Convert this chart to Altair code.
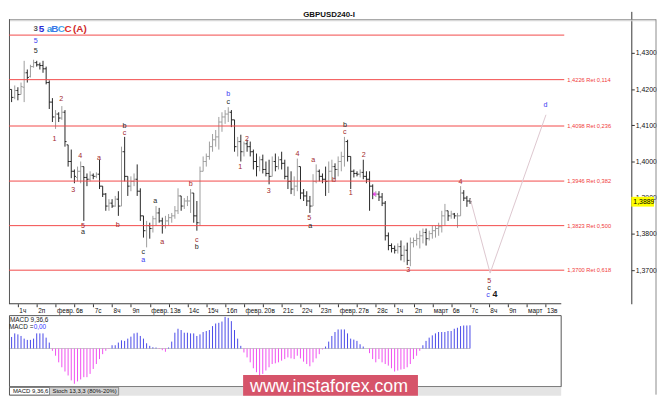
import json
import altair as alt
import pandas as pd

FONT = "Liberation Sans"

# ---------------- data: GBPUSD 4-hour bars (first bar 31 Jan, 08:00) ----------------
bar_open = [
    1.4142, 1.4177, 1.4199, 1.4177, 1.4196, 1.4185, 1.4205, 1.4245, 1.4235, 1.4262,
    1.4273, 1.4267, 1.4265, 1.4256, 1.4218, 1.4164, 1.4123, 1.4131, 1.4120, 1.4136,
    1.4046, 1.4000, 1.3973, 1.3956, 1.3973, 1.3986, 1.3956, 1.3951, 1.3962, 1.3959,
    1.3965, 1.3932, 1.3910, 1.3877, 1.3885, 1.3877, 1.3896, 1.3877, 1.4027, 1.3959,
    1.3932, 1.3945, 1.3951, 1.3918, 1.3850, 1.3809, 1.3823, 1.3815, 1.3842, 1.3858,
    1.3836, 1.3823, 1.3836, 1.3845, 1.3850, 1.3864, 1.3905, 1.3877, 1.3891, 1.3891,
    1.3913, 1.3850, 1.3831, 1.3973, 1.4000, 1.4014, 1.4041, 1.4060, 1.4068, 1.4109,
    1.4123, 1.4131, 1.4136, 1.4115, 1.4041, 1.4055, 1.4027, 1.4049, 1.4041, 1.4027,
    1.4000, 1.3986, 1.4005, 1.3978, 1.3967, 1.3959, 1.4000, 1.3986, 1.4005, 1.3995,
    1.3959, 1.3945, 1.3924, 1.3932, 1.3986, 1.3913, 1.3905, 1.3891, 1.3877, 1.3945,
    1.3973, 1.3959, 1.3951, 1.3945, 1.3973, 1.3986, 1.3978, 1.4000, 1.4014, 1.4055,
    1.4014, 1.3973, 1.3967, 1.3965, 1.3970, 1.3959, 1.3951, 1.3932, 1.3910, 1.3910,
    1.3902, 1.3885, 1.3795, 1.3768, 1.3760, 1.3755, 1.3765, 1.3741, 1.3755, 1.3727,
    1.3776, 1.3782, 1.3787, 1.3795, 1.3804, 1.3787, 1.3801, 1.3809, 1.3815, 1.3820,
    1.3850, 1.3864, 1.3850, 1.3855, 1.3850, 1.3850, 1.3913, 1.3899, 1.3891,
]
bar_high = [
    1.4191, 1.4218, 1.4199, 1.4210, 1.4205, 1.4218, 1.4278, 1.4254, 1.4267, 1.4281,
    1.4278, 1.4273, 1.4278, 1.4262, 1.4224, 1.4175, 1.4142, 1.4136, 1.4153, 1.4142,
    1.4046, 1.4033, 1.3978, 1.3986, 1.4000, 1.3986, 1.3967, 1.3973, 1.3967, 1.3970,
    1.4005, 1.3932, 1.3913, 1.3896, 1.3896, 1.3905, 1.3918, 1.4041, 1.4068, 1.3959,
    1.3959, 1.3967, 1.3992, 1.3926, 1.3850, 1.3836, 1.3831, 1.3850, 1.3877, 1.3872,
    1.3845, 1.3850, 1.3855, 1.3858, 1.3877, 1.3926, 1.3905, 1.3899, 1.3905, 1.3924,
    1.3913, 1.3891, 1.3986, 1.4014, 1.4022, 1.4055, 1.4076, 1.4087, 1.4123, 1.4136,
    1.4142, 1.4150, 1.4142, 1.4115, 1.4068, 1.4074, 1.4055, 1.4060, 1.4055, 1.4033,
    1.4022, 1.4014, 1.4019, 1.4000, 1.4005, 1.4014, 1.4022, 1.4014, 1.4027, 1.4005,
    1.3986, 1.3973, 1.3959, 1.4008, 1.3986, 1.3924, 1.3918, 1.3905, 1.3965, 1.3992,
    1.3978, 1.3967, 1.3986, 1.4000, 1.4005, 1.3995, 1.4014, 1.4027, 1.4068, 1.4060,
    1.4014, 1.3978, 1.3973, 1.3978, 1.4005, 1.3973, 1.3973, 1.3937, 1.3918, 1.3918,
    1.3913, 1.3891, 1.3804, 1.3774, 1.3768, 1.3774, 1.3782, 1.3768, 1.3776, 1.3790,
    1.3790, 1.3801, 1.3809, 1.3815, 1.3815, 1.3809, 1.3823, 1.3823, 1.3831, 1.3864,
    1.3883, 1.3864, 1.3864, 1.3858, 1.3858, 1.3932, 1.3921, 1.3905, 1.3899,
]
bar_low = [
    1.4128, 1.4136, 1.4164, 1.4172, 1.4169, 1.4185, 1.4164, 1.4218, 1.4232, 1.4259,
    1.4262, 1.4254, 1.4245, 1.4213, 1.4145, 1.4109, 1.4090, 1.4109, 1.4115, 1.4041,
    1.3986, 1.3954, 1.3940, 1.3945, 1.3940, 1.3836, 1.3932, 1.3945, 1.3951, 1.3954,
    1.3924, 1.3902, 1.3864, 1.3864, 1.3872, 1.3875, 1.3850, 1.3877, 1.3945, 1.3905,
    1.3918, 1.3932, 1.3905, 1.3836, 1.3790, 1.3763, 1.3787, 1.3804, 1.3823, 1.3831,
    1.3801, 1.3815, 1.3823, 1.3831, 1.3842, 1.3855, 1.3864, 1.3869, 1.3877, 1.3858,
    1.3831, 1.3809, 1.3823, 1.3973, 1.3986, 1.4005, 1.4027, 1.4041, 1.4033, 1.4082,
    1.4104, 1.4109, 1.4095, 1.4027, 1.4014, 1.4000, 1.4014, 1.4027, 1.4014, 1.3978,
    1.3959, 1.3973, 1.3967, 1.3959, 1.3937, 1.3959, 1.3973, 1.3978, 1.3978, 1.3951,
    1.3924, 1.3910, 1.3905, 1.3918, 1.3896, 1.3891, 1.3877, 1.3858, 1.3877, 1.3940,
    1.3945, 1.3940, 1.3905, 1.3913, 1.3945, 1.3951, 1.3959, 1.3973, 1.3986, 1.4000,
    1.3924, 1.3956, 1.3959, 1.3956, 1.3951, 1.3940, 1.3864, 1.3896, 1.3902, 1.3891,
    1.3877, 1.3782, 1.3755, 1.3749, 1.3746, 1.3746, 1.3727, 1.3722, 1.3714, 1.3711,
    1.3763, 1.3768, 1.3760, 1.3774, 1.3768, 1.3782, 1.3787, 1.3790, 1.3795, 1.3804,
    1.3823, 1.3836, 1.3842, 1.3842, 1.3817, 1.3850, 1.3891, 1.3875, 1.3883,
]
bar_close = [
    1.4177, 1.4205, 1.4177, 1.4196, 1.4185, 1.4207, 1.4245, 1.4232, 1.4262, 1.4273,
    1.4267, 1.4265, 1.4256, 1.4218, 1.4164, 1.4123, 1.4131, 1.4120, 1.4136, 1.4055,
    1.4000, 1.3973, 1.3959, 1.3973, 1.3986, 1.3956, 1.3951, 1.3962, 1.3959, 1.3965,
    1.3932, 1.3910, 1.3877, 1.3885, 1.3877, 1.3896, 1.3877, 1.4027, 1.3959, 1.3932,
    1.3945, 1.3951, 1.3918, 1.3850, 1.3809, 1.3823, 1.3815, 1.3842, 1.3858, 1.3836,
    1.3823, 1.3836, 1.3845, 1.3850, 1.3864, 1.3905, 1.3877, 1.3891, 1.3891, 1.3913,
    1.3850, 1.3831, 1.3973, 1.4000, 1.4014, 1.4041, 1.4060, 1.4068, 1.4109, 1.4123,
    1.4131, 1.4136, 1.4115, 1.4041, 1.4055, 1.4027, 1.4049, 1.4041, 1.4027, 1.4000,
    1.3986, 1.4005, 1.3978, 1.3967, 1.3959, 1.4000, 1.3986, 1.4005, 1.3995, 1.3959,
    1.3945, 1.3924, 1.3932, 1.3986, 1.3913, 1.3905, 1.3891, 1.3877, 1.3945, 1.3973,
    1.3959, 1.3951, 1.3945, 1.3973, 1.3986, 1.3978, 1.4000, 1.4014, 1.4055, 1.4014,
    1.3973, 1.3967, 1.3965, 1.3970, 1.3959, 1.3951, 1.3932, 1.3910, 1.3910, 1.3902,
    1.3885, 1.3795, 1.3768, 1.3760, 1.3755, 1.3765, 1.3741, 1.3755, 1.3727, 1.3776,
    1.3782, 1.3787, 1.3795, 1.3804, 1.3787, 1.3801, 1.3809, 1.3815, 1.3820, 1.3850,
    1.3864, 1.3850, 1.3855, 1.3850, 1.3850, 1.3913, 1.3899, 1.3891, 1.3889,
]
macd_hist = [
    0.00067, 0.00077, 0.00117, 0.00153, 0.00143, 0.00127, 0.00100, 0.00087, 0.00087, 0.00100,
    0.00153, 0.00153, 0.00153, 0.00110, 0.00060, -0.00023, -0.00073, -0.00140, -0.00190, -0.00233,
    -0.00273, -0.00323, -0.00357, -0.00333, -0.00313, -0.00290, -0.00290, -0.00257, -0.00207, -0.00157,
    -0.00107, -0.00057, -0.00023, -0.00005, 0.00033, 0.00033, 0.00060, 0.00083, 0.00077, 0.00100,
    0.00120, 0.00153, 0.00160, 0.00127, 0.00100, 0.00053, 0.00027, 0.00013, 0.00010, -0.00005,
    -0.00017, -0.00033, 0.00010, 0.00070, 0.00160, 0.00200, 0.00187, 0.00160, 0.00160, 0.00153,
    0.00153, 0.00127, 0.00143, 0.00167, 0.00177, 0.00187, 0.00227, 0.00253, 0.00260, 0.00273,
    0.00320, 0.00310, 0.00277, 0.00187, 0.00100, 0.00027, -0.00040, -0.00090, -0.00140, -0.00200,
    -0.00240, -0.00273, -0.00257, -0.00223, -0.00190, -0.00157, -0.00150, -0.00140, -0.00123, -0.00107,
    -0.00090, -0.00100, -0.00107, -0.00073, -0.00100, -0.00133, -0.00157, -0.00180, -0.00140, -0.00100,
    -0.00057, -0.00010, 0.00020, 0.00070, 0.00127, 0.00167, 0.00193, 0.00193, 0.00193, 0.00153,
    0.00100, 0.00090, 0.00077, 0.00043, 0.00020, 0.00000, -0.00047, -0.00107, -0.00140, -0.00107,
    -0.00140, -0.00157, -0.00173, -0.00200, -0.00233, -0.00223, -0.00213, -0.00207, -0.00190, -0.00157,
    -0.00107, -0.00073, -0.00023, 0.00033, 0.00077, 0.00110, 0.00133, 0.00153, 0.00167, 0.00167,
    0.00167, 0.00177, 0.00177, 0.00200, 0.00210, 0.00227, 0.00233, 0.00233, 0.00235,
]
BARS_BEFORE_FEB1 = 4      # 4-hour bars shown before 1 Feb 00:00
BARS_PER_DAY = 6

day_labels = ["1ч", "2п", "февр.", "6в", "7с", "8ч", "9п", "февр.", "13в", "14с", "15ч",
              "16п", "февр.", "20в", "21с", "22ч", "23п", "февр.", "27в", "28с", "1ч",
              "2п", "март", "6в", "7с", "8ч", "9п", "март", "13в"]
price_ticks = [1.37, 1.38, 1.39, 1.40, 1.41, 1.42, 1.43]

fib_levels = [1.4349, 1.4226, 1.4098, 1.3946, 1.3823, 1.3700]
fib_labels = ["", "1,4226 Ret 0,114", "1,4098 Ret 0,236", "1,3946 Ret 0,382",
              "1,3823 Ret 0,500", "1,3700 Ret 0,618"]

R, K, B = "#a3282d", "#262626", "#3a3af2"
wave_text = ["5", "5", "1", "2", "3", "4", "5", "a", "a", "b", "b", "c", "c", "a", "a", "a",
             "b", "c", "b", "b", "c", "1", "2", "3", "4", "5", "a", "a", "b", "b", "c",
             "1", "2", "3", "4", "5", "c", "c", "d"]
wave_day = [0.944, 0.944, 1.940, 2.307, 2.937, 3.304, 3.461, 3.461, 4.300, 5.296, 5.663,
            5.663, 6.660, 6.660, 7.289, 7.656, 9.177, 9.491, 9.491, 11.169, 11.169, 11.799,
            12.166, 13.319, 14.840, 15.469, 15.522, 15.679, 16.780, 17.357, 17.357, 17.672,
            18.354, 20.713, 23.493, 25.013, 25.013, 24.961, 28.002]
wave_price = [1.4333, 1.4305, 1.4063, 1.4172, 1.3921, 1.4014, 1.3823, 1.3804, 1.4011,
              1.3825, 1.4098, 1.4079, 1.3749, 1.3727, 1.3891, 1.3779, 1.3937, 1.3782,
              1.3763, 1.4185, 1.4164, 1.3986, 1.4063, 1.3918, 1.4022, 1.3845, 1.3823,
              1.4003, 1.3948, 1.4101, 1.4082, 1.3913, 1.4019, 1.3700, 1.3943, 1.3670,
              1.3651, 1.3632, 1.4155]
wave_color = [B, K, R, R, R, R, R, K, R, R, K, R, K, B, K, R, R, R, K, B, K, R, R, R, R,
              R, K, R, R, K, R, R, R, R, R, R, K, B, B]

legend_text = ["3", "5", "a", "B", "C", "C", "(A)"]
legend_day = [0.944, 1.259, 1.678, 1.966, 2.307, 2.659, 3.288]
legend_color = ["#555555", "#2b2bd9", "#2f9be0", "#3a78e8", "#4aa3ee", "#e02828", "#cf2a2a"]
legend_size = [8, 10, 10, 10, 10, 10, 10]
legend_price = 1.4365

wave4_day, wave4_price = 25.328, 1.3635

proj_day = [24.017, 25.066, 28.030]
proj_price = [1.3896, 1.3692, 1.4129]

cross_day, cross_price = 18.93, 1.3910
last_price = 1.3889
last_label = "1,3889"

# ---------------- frames ----------------
bars = pd.DataFrame({
    "day": [(i - BARS_BEFORE_FEB1) / BARS_PER_DAY for i in range(len(bar_close))],
    "open": bar_open, "high": bar_high, "low": bar_low, "close": bar_close,
    "macd": macd_hist,
})
bars["zero"] = 0.0
bars["col"] = ["#9c9c9c" if c >= o else "#262626" for o, c in zip(bar_open, bar_close)]
bars["mcol"] = ["#4848e8" if m >= 0 else "#f04ef0" for m in macd_hist]

X_DOM = [-0.472, 32.56]
Y_DOM = [1.36073, 1.44145]
FIB_END = 29.0
TIME_END = 28.842

xs = alt.Scale(domain=X_DOM, nice=False, zero=False)
ys = alt.Scale(domain=Y_DOM, nice=False, zero=False)

x_axis = alt.Axis(
    values=list(range(len(day_labels))),
    labelExpr=json.dumps(day_labels, ensure_ascii=False) + "[datum.value]",
    title=None, grid=False, domain=False, tickSize=3, tickColor="#333333",
    labelAlign="left", labelBaseline="top", labelOffset=1, labelPadding=1,
    labelFontSize=6.5, labelFont=FONT, labelColor="#111111",
    labelOverlap=False, labelFlush=False,
)
y_axis = alt.Axis(
    orient="right", values=price_ticks,
    labelExpr="replace(format(datum.value, '.4f'), '.', ',')",
    title=None, grid=False, domain=True, domainColor="#333333",
    tickSize=3, tickColor="#333333", labelPadding=1, labelFontSize=7,
    labelFont=FONT, labelColor="#111111", labelOverlap=False, labelFlush=False,
)

# every layer that uses the price/time scales carries the same axis definition
def X(f):
    return alt.X(f, scale=xs, axis=x_axis)

def Y(f):
    return alt.Y(f, scale=ys, axis=y_axis)

one = pd.DataFrame({"k": [0]})

hl = alt.Chart(bars).mark_rule(strokeWidth=1, clip=True).encode(
    x=X("day:Q"), y=Y("low:Q"), y2="high:Q", color=alt.Color("col:N", scale=None))
open_t = alt.Chart(bars).mark_rule(strokeWidth=1, xOffset=-1.6, clip=True).encode(
    x=X("day:Q"), x2="day:Q", y=Y("open:Q"), color=alt.Color("col:N", scale=None))
close_t = alt.Chart(bars).mark_rule(strokeWidth=1, x2Offset=1.6, clip=True).encode(
    x=X("day:Q"), x2="day:Q", y=Y("close:Q"), color=alt.Color("col:N", scale=None))

fib = pd.DataFrame({"level": fib_levels, "label": fib_labels})
fib["start"] = X_DOM[0]
fib["end"] = FIB_END
fib["tday"] = FIB_END + 0.16
fib_rules = alt.Chart(fib).mark_rule(color="#f24848", strokeWidth=1).encode(
    x=X("start:Q"), x2="end:Q", y=Y("level:Q"))
fib_text = alt.Chart(fib).mark_text(align="left", baseline="middle", font=FONT,
                                    fontSize=5.8, color="#f03a3a").encode(
    x=X("tday:Q"), y=Y("level:Q"), text="label:N")

axis_line_df = pd.DataFrame({"start": [X_DOM[0]], "end": [TIME_END], "level": [Y_DOM[0]]})
axis_line = alt.Chart(axis_line_df).mark_rule(color="#3c3c3c", strokeWidth=1).encode(
    x=X("start:Q"), x2="end:Q", y=Y("level:Q"))

proj = pd.DataFrame({"day": proj_day, "price": proj_price, "k": [0, 1, 2]})
proj_line = alt.Chart(proj).mark_line(color="#dcc6ce", strokeWidth=1).encode(
    x=X("day:Q"), y=Y("price:Q"), order="k:Q")

waves = pd.DataFrame({"day": wave_day, "price": wave_price, "t": wave_text, "c": wave_color})
wave_txt = alt.Chart(waves).mark_text(font=FONT, fontSize=7.2, align="center",
                                      baseline="middle").encode(
    x=X("day:Q"), y=Y("price:Q"), text="t:N", color=alt.Color("c:N", scale=None))

w4 = pd.DataFrame({"day": [wave4_day], "price": [wave4_price], "t": ["4"]})
w4_txt = alt.Chart(w4).mark_text(font=FONT, fontSize=9, fontWeight="bold", color="#1a1a1a",
                                 align="center", baseline="middle").encode(
    x=X("day:Q"), y=Y("price:Q"), text="t:N")

leg = pd.DataFrame({"day": legend_day, "t": legend_text, "c": legend_color, "s": legend_size})
leg["price"] = legend_price
leg_txt = alt.Chart(leg).mark_text(font=FONT, fontWeight="bold", align="center",
                                   baseline="middle").encode(
    x=X("day:Q"), y=Y("price:Q"), text="t:N", color=alt.Color("c:N", scale=None),
    size=alt.Size("s:Q", scale=None))

cross = alt.Chart(pd.DataFrame({"day": [cross_day], "price": [cross_price]})).mark_point(
    shape="cross", size=14, filled=True, color="#ff20ff").encode(x=X("day:Q"), y=Y("price:Q"))

lp = pd.DataFrame({"price": [last_price], "label": [last_label]})
lp_box = alt.Chart(lp).mark_point(shape="M-1,-0.43L1,-0.43L1,0.43L-1,0.43Z", size=529,
                                  filled=True, color="#ffff00", opacity=1, strokeWidth=0).encode(
    x=alt.value(641.5), y=Y("price:Q"))
lp_txt = alt.Chart(lp).mark_text(align="left", baseline="middle", font=FONT, fontSize=7,
                                 color="#000000").encode(
    x=alt.value(632), y=Y("price:Q"), text="label:N")

title = alt.Chart(one).mark_text(text="GBPUSD240-I", font=FONT, fontSize=8, fontWeight="bold",
                                 color="#111111", align="center", baseline="middle").encode(
    x=alt.value(324), y=alt.value(4))
top_line = alt.Chart(one).mark_rule(color="#8a8a8a", strokeWidth=1).encode(
    x=alt.value(0), x2=alt.value(655), y=alt.value(8.5))
top_line2 = alt.Chart(one).mark_rule(color="#d4d4d4", strokeWidth=1).encode(
    x=alt.value(0), x2=alt.value(655), y=alt.value(9.5))
left_line = alt.Chart(one).mark_rule(color="#555555", strokeWidth=1).encode(
    x=alt.value(0.5), y=alt.value(8), y2=alt.value(296))
right_line = alt.Chart(one).mark_rule(color="#8a8a8a", strokeWidth=1).encode(
    x=alt.value(655), y=alt.value(8), y2=alt.value(388))

main = alt.layer(
    hl, open_t, close_t,
    top_line, top_line2, left_line, right_line, title,
    fib_rules, fib_text, axis_line, proj_line, cross,
    wave_txt, w4_txt, leg_txt, lp_box, lp_txt,
).properties(width=630, height=296)

# ---------------- MACD panel ----------------
mxs = alt.Scale(domain=[X_DOM[0], TIME_END], nice=False, zero=False)
mys = alt.Scale(domain=[-0.00387, 0.00333], nice=False, zero=False)

zl = pd.DataFrame({"start": [bars["day"].iloc[0]], "end": [bars["day"].iloc[-1]], "zero": [0.0]})
zero_line = alt.Chart(zl).mark_rule(color="#c8c8c8", strokeWidth=1, clip=True).encode(
    x=alt.X("start:Q", scale=mxs, axis=None), x2="end:Q",
    y=alt.Y("zero:Q", scale=mys, axis=None))
hist = alt.Chart(bars).mark_rule(strokeWidth=1, clip=True).encode(
    x=alt.X("day:Q", scale=mxs, axis=None),
    y=alt.Y("macd:Q", scale=mys, axis=None), y2="zero:Q",
    color=alt.Color("mcol:N", scale=None))

frame = alt.Chart(one).mark_rect(fillOpacity=0, stroke="#555555", strokeWidth=1).encode(
    x=alt.value(0.5), x2=alt.value(559), y=alt.value(0), y2=alt.value(72))
m1 = alt.Chart(one).mark_text(text="MACD 9,36,6", align="left", baseline="middle", font=FONT,
                              fontSize=6.5, color="#222222").encode(x=alt.value(1), y=alt.value(4.5))
m2 = alt.Chart(one).mark_text(text="MACD =", align="left", baseline="middle", font=FONT,
                              fontSize=6.5, color="#222222").encode(x=alt.value(0), y=alt.value(11.5))
m3 = alt.Chart(one).mark_text(text="0,00", align="left", baseline="middle", font=FONT,
                              fontSize=6.5, color="#3333ff").encode(x=alt.value(25), y=alt.value(11.5))

band = alt.Chart(one).mark_rect(color="#e4e4e4").encode(
    x=alt.value(0), x2=alt.value(559), y=alt.value(72.5), y2=alt.value(81))
tab1 = alt.Chart(one).mark_rect(fill="#ffffff", stroke="#555555", strokeWidth=1).encode(
    x=alt.value(0.5), x2=alt.value(41), y=alt.value(72.5), y2=alt.value(80.5))
tab2 = alt.Chart(one).mark_rect(fill="#d2d2d2", stroke="#888888", strokeWidth=1).encode(
    x=alt.value(41), x2=alt.value(111), y=alt.value(72.5), y2=alt.value(80.5))
t1 = alt.Chart(one).mark_text(text="MACD 9,36,6", align="left", baseline="middle", font=FONT,
                              fontSize=6, color="#111111").encode(x=alt.value(4), y=alt.value(76.5))
t2 = alt.Chart(one).mark_text(text="Stoch 13,3,3 (80%-20%)", align="left", baseline="middle",
                              font=FONT, fontSize=6, color="#111111").encode(
    x=alt.value(44), y=alt.value(76.5))

wm_box = alt.Chart(one).mark_rect(color="#d6546a").encode(
    x=alt.value(237), x2=alt.value(414), y=alt.value(60), y2=alt.value(81))
wm_txt = alt.Chart(one).mark_text(text="www.instaforex.com", align="center",
                                  baseline="alphabetic", font=FONT, fontSize=18,
                                  color="#ffffff").encode(x=alt.value(324), y=alt.value(77))

macd = alt.layer(
    zero_line, hist, frame, m1, m2, m3, band, tab1, tab2, t1, t2, wm_box, wm_txt
).properties(width=559, height=72)

chart = alt.vconcat(main, macd, spacing=12, bounds="flush").properties(
    padding=0, background="#ffffff"
).configure_view(stroke="transparent")

chart.save("out.html", embed_options={"renderer": "svg", "actions": False})
